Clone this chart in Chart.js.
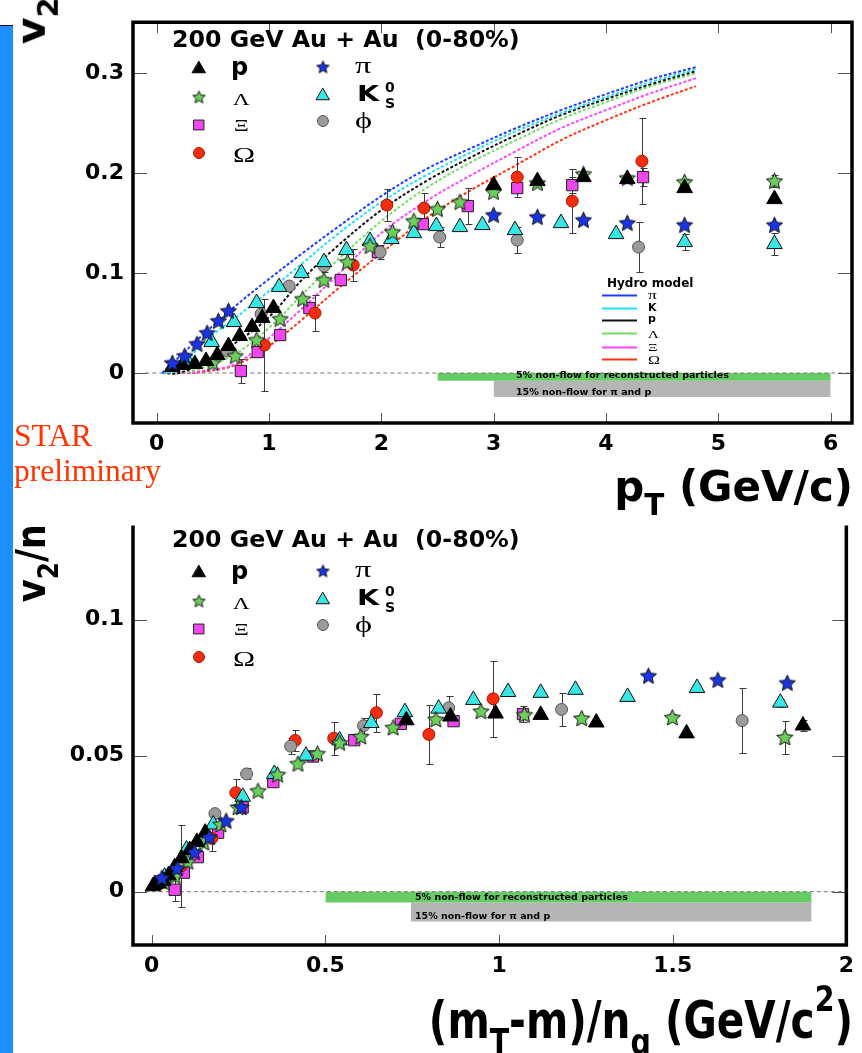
<!DOCTYPE html>
<html>
<head>
<meta charset="utf-8">
<script src="https://cdn.jsdelivr.net/npm/chart.js@4.4.1/dist/chart.umd.min.js"></script>
<style>
  html, body { margin: 0; padding: 0; background: #fff; }
  body { width: 862px; height: 1053px; position: relative; overflow: hidden; }
  canvas { position: absolute; left: 0; }
  #c1 { top: 0; }
  #c2 { top: 505px; }
  #bar { position: absolute; left: 0; top: 25px; width: 13px; height: 1028px; background: #1e8fff; border-top: 1px solid #002; }
  .t { position: absolute; line-height: 0; white-space: nowrap; color: #000; }
  .sans { font-family: 'DejaVu Sans'; font-weight: bold; }
  .serif { font-family: 'Liberation Serif', 'DejaVu Serif'; }
  .sub { font-size: 70%; position: relative; top: 0.45em; }
  .sup { font-size: 70%; position: relative; top: -0.75em; }
</style>
</head>
<body>
<canvas id="c1" width="862" height="505"></canvas>
<canvas id="c2" width="862" height="548"></canvas>
<div id="bar"></div>
<script>
// ---------- top panel : v2 vs pT ----------
const xTicksTop = [0, 1, 2, 3, 4, 5, 6];
const xLabelsTop = ['0', '1', '2', '3', '4', '5', '6'];
const yTicksTop = [0, 0.1, 0.2, 0.3];
const yLabelsTop = ['0', '0.1', '0.2', '0.3'];

const ptP  = [0.14, 0.23, 0.34, 0.44, 0.54, 0.64, 0.74, 0.85, 0.94, 1.04, 3.0, 3.39, 3.80, 4.19, 4.70, 5.50];
const v2P  = [0.006, 0.008, 0.009, 0.012, 0.018, 0.027, 0.037, 0.046, 0.055, 0.065, 0.188, 0.192, 0.196, 0.194, 0.185, 0.174];

const ptPi = [0.14, 0.25, 0.36, 0.45, 0.55, 0.64, 3.0, 3.39, 3.80, 4.19, 4.70, 5.50];
const v2Pi = [0.010, 0.017, 0.029, 0.040, 0.052, 0.062, 0.158, 0.156, 0.153, 0.150, 0.148, 0.148];

const ptK  = [0.28, 0.49, 0.69, 0.89, 1.09, 1.29, 1.49, 1.69, 1.90, 2.09, 2.29, 2.49, 2.70, 2.90, 3.19, 3.60, 4.09, 4.70, 5.50];
const v2K  = [0.011, 0.031, 0.051, 0.070, 0.086, 0.100, 0.111, 0.123, 0.132, 0.134, 0.140, 0.147, 0.146, 0.148, 0.143, 0.150, 0.139, 0.131, 0.129];
const errK = [0, 0, 0, 0, 0, 0, 0, 0, 0, 0, 0, 0, 0, 0, 0, 0, 0, 0.008, 0.011];

const ptL  = [0.50, 0.70, 0.89, 1.10, 1.30, 1.49, 1.70, 1.90, 2.10, 2.29, 2.50, 2.70, 3.00, 3.39, 3.80, 4.19, 4.70, 5.50];
const v2L  = [0.010, 0.017, 0.033, 0.054, 0.074, 0.093, 0.111, 0.127, 0.141, 0.152, 0.164, 0.171, 0.181, 0.190, 0.199, 0.195, 0.191, 0.192];
const errL = [0, 0, 0, 0, 0, 0, 0, 0, 0, 0, 0, 0, 0, 0, 0, 0, 0.003, 0.006];

const ptXi = [0.75, 0.90, 1.10, 1.36, 1.64, 1.97, 2.37, 2.77, 3.21, 3.70, 4.33];
const v2Xi = [0.002, 0.021, 0.038, 0.065, 0.093, 0.121, 0.149, 0.167, 0.185, 0.188, 0.196];
const errXi = [0.012, 0, 0, 0, 0, 0, 0, 0.018, 0, 0.008, 0.009];

const ptOm = [0.96, 1.41, 1.75, 2.05, 2.38, 3.21, 3.70, 4.32];
const v2Om = [0.028, 0.060, 0.108, 0.168, 0.165, 0.196, 0.172, 0.212];
const errOm = [0.046, 0.018, 0.016, 0.016, 0.015, 0.020, 0.032, 0.043];

const ptPhi = [0.63, 0.93, 1.18, 1.49, 1.99, 2.52, 3.21, 4.29];
const v2Phi = [0.022, 0.059, 0.087, 0.107, 0.121, 0.136, 0.133, 0.126];
const errPhi = [0, 0, 0.003, 0.006, 0.007, 0.010, 0.013, 0.025];

// hydro model curves
const hydroPt  = [0.05, 0.2, 0.4, 0.7, 1.0, 1.3, 1.6, 2.0, 2.4, 2.8, 3.2, 3.6, 4.0, 4.4, 4.8];
const hydroPi  = [0, 0.016, 0.037, 0.067, 0.094, 0.120, 0.145, 0.177, 0.204, 0.225, 0.245, 0.263, 0.279, 0.294, 0.306];
const hydroK   = [0, 0.003, 0.029, 0.055, 0.082, 0.110, 0.138, 0.171, 0.198, 0.221, 0.242, 0.260, 0.276, 0.291, 0.304];
const hydroP   = [0, 0, 0.010, 0.030, 0.056, 0.094, 0.126, 0.163, 0.192, 0.216, 0.238, 0.258, 0.274, 0.289, 0.302];
const hydroL   = [0, 0, 0.005, 0.019, 0.045, 0.079, 0.112, 0.152, 0.185, 0.211, 0.233, 0.254, 0.271, 0.287, 0.300];
const hydroXi  = [0, 0, 0.002, 0.009, 0.035, 0.065, 0.097, 0.140, 0.172, 0.198, 0.222, 0.245, 0.263, 0.280, 0.295];
const hydroOm  = [0, 0, 0.001, 0.008, 0.027, 0.054, 0.083, 0.120, 0.155, 0.183, 0.208, 0.233, 0.253, 0.271, 0.287];

// non-flow bands [xFrom, xTo, yTop, yBottom]
const bandGreenTop = [2.5, 6.0, 0, -0.0077];
const bandGrayTop  = [3.0, 6.0, -0.0077, -0.024];

// ---------- bottom panel : v2/n vs (mT-m)/nq ----------
const xTicksBot = [0, 0.5, 1, 1.5, 2];
const xLabelsBot = ['0', '0.5', '1', '1.5', '2'];
const yTicksBot = [0, 0.05, 0.1];
const yLabelsBot = ['0', '0.05', '0.1'];

const kP  = [0.0035, 0.0093, 0.0199, 0.0327, 0.0481, 0.0659, 0.0856, 0.1093, 0.130, 0.154, 0.733, 0.86, 0.99, 1.12, 1.28, 1.54, 1.875];
const nP  = [0.002, 0.0027, 0.003, 0.004, 0.006, 0.009, 0.0123, 0.0153, 0.0183, 0.0217, 0.063, 0.0644, 0.0655, 0.065, 0.0622, 0.0582, 0.0611];
const eP  = [0, 0, 0, 0, 0, 0, 0, 0, 0, 0, 0, 0, 0, 0, 0, 0, 0.002];

const kPi = [0.029, 0.073, 0.123, 0.166, 0.214, 0.258, 1.43, 1.63, 1.83];
const nPi = [0.005, 0.0085, 0.0145, 0.020, 0.026, 0.031, 0.0793, 0.0778, 0.0767];

const kK  = [0.037, 0.10, 0.177, 0.262, 0.353, 0.444, 0.541, 0.632, 0.729, 0.826, 0.926, 1.026, 1.12, 1.22, 1.37, 1.57, 1.81];
const nK  = [0.0055, 0.0155, 0.0247, 0.0349, 0.0433, 0.050, 0.0556, 0.062, 0.066, 0.0673, 0.0705, 0.0734, 0.0731, 0.0742, 0.0716, 0.0749, 0.0695];
const eK  = [0, 0, 0, 0, 0, 0, 0, 0, 0, 0, 0, 0, 0, 0, 0, 0, 0.0015];

const kL  = [0.036, 0.067, 0.104, 0.150, 0.199, 0.2485, 0.306, 0.3625, 0.421, 0.477, 0.541, 0.602, 0.695, 0.818, 0.948, 1.073, 1.238, 1.499, 1.823];
const nL  = [0.0033, 0.0057, 0.011, 0.018, 0.0247, 0.031, 0.037, 0.043, 0.047, 0.0507, 0.0547, 0.057, 0.0603, 0.0633, 0.0663, 0.065, 0.0637, 0.064, 0.0567];
const eL  = [0, 0, 0, 0, 0, 0, 0, 0, 0, 0, 0, 0, 0, 0, 0, 0, 0, 0.0012, 0.006];

const kXi = [0.066, 0.0925, 0.1327, 0.191, 0.2617, 0.350, 0.464, 0.583, 0.717, 0.869, 1.069];
const nXi = [0.0007, 0.007, 0.0127, 0.0217, 0.031, 0.0403, 0.0497, 0.0557, 0.0617, 0.0627, 0.0653];
const eXi = [0.004, 0, 0, 0, 0, 0, 0, 0, 0, 0, 0.003];

const kOm = [0.085, 0.173, 0.242, 0.413, 0.524, 0.647, 0.798, 0.983];
const nOm = [0.0095, 0.0196, 0.0364, 0.0556, 0.0564, 0.0658, 0.0578, 0.0709];
const eOm = [0.015, 0.0045, 0.005, 0.004, 0.006, 0.007, 0.011, 0.014];

const kPhi = [0.0895, 0.182, 0.273, 0.400, 0.610, 0.855, 1.18, 1.70];
const nPhi = [0.011, 0.0287, 0.0433, 0.0535, 0.061, 0.0676, 0.067, 0.0629];
const ePhi = [0, 0.0015, 0.002, 0.003, 0.003, 0.0045, 0.006, 0.012];

const bandGreenBot = [0.5, 1.9, 0, -0.004];
const bandGrayBot  = [0.746, 1.9, -0.004, -0.011];

// ---------- marker styles ----------
function starImg(fill, size) {
  const c = document.createElement('canvas');
  c.width = c.height = size;
  const g = c.getContext('2d');
  const cx = size / 2, cy = size / 2 + 0.5, R = size / 2 - 1, r = R * 0.47;
  g.beginPath();
  for (let i = 0; i < 10; i++) {
    const a = -Math.PI / 2 + i * Math.PI / 5;
    const rr = i % 2 ? r : R;
    g.lineTo(cx + rr * Math.cos(a), cy + rr * Math.sin(a));
  }
  g.closePath();
  g.fillStyle = fill; g.fill();
  g.lineWidth = 1; g.strokeStyle = '#111'; g.stroke();
  return c;
}

const BLUE = '#1a34e2', CYAN = '#38e6e6', GREEN = '#6ccf5c', MAGENTA = '#f046ef', RED = '#f52d0c', GRAY = '#9b9b9b';

const ST = {
  p:   { shape: 'triangle', r: 9, fill: '#000', edge: '#000' },
  pi:  { shape: starImg(BLUE, 19), r: 8, fill: BLUE, edge: '#111' },
  K:   { shape: 'triangle', r: 9, fill: CYAN, edge: '#111' },
  L:   { shape: starImg(GREEN, 19), r: 8, fill: GREEN, edge: '#111' },
  Xi:  { shape: 'rect', r: 8, fill: MAGENTA, edge: '#222' },
  Om:  { shape: 'circle', r: 6, fill: RED, edge: '#a01800' },
  Phi: { shape: 'circle', r: 6, fill: GRAY, edge: '#555' }
};
const LEG = {
  p:   { shape: 'triangle', r: 7.5, fill: '#000', edge: '#000' },
  pi:  { shape: starImg(BLUE, 15), r: 6, fill: BLUE, edge: '#111' },
  K:   { shape: 'triangle', r: 7.5, fill: CYAN, edge: '#111' },
  L:   { shape: starImg(GREEN, 15), r: 6, fill: GREEN, edge: '#111' },
  Xi:  { shape: 'rect', r: 7, fill: MAGENTA, edge: '#222' },
  Om:  { shape: 'circle', r: 5.5, fill: RED, edge: '#a01800' },
  Phi: { shape: 'circle', r: 5.5, fill: GRAY, edge: '#555' }
};

function pts(xs, ys) { return xs.map((x, i) => ({ x: x, y: ys[i] })); }

function markerSet(xs, ys, err, st, order) {
  return {
    type: 'scatter', data: pts(xs, ys), err: err, marker: true, order: order,
    pointStyle: st.shape, pointRadius: st.r, pointHoverRadius: st.r,
    pointBackgroundColor: st.fill, pointBorderColor: st.edge, pointBorderWidth: 1
  };
}
function curveSet(xs, ys, color) {
  return {
    type: 'line', data: pts(xs, ys), borderColor: color, borderWidth: 2, borderDash: [3, 2],
    pointRadius: 0, tension: 0.35, fill: false, order: 50
  };
}
function bandSet(b, color) {
  return {
    type: 'line', data: [{ x: b[0], y: b[2] }, { x: b[1], y: b[2] }],
    borderColor: 'rgba(0,0,0,0)', borderWidth: 1, pointRadius: 0,
    fill: { value: b[3] }, backgroundColor: color, order: 100
  };
}
function zeroSet(x0, x1) {
  return {
    type: 'line', data: [{ x: x0, y: 0 }, { x: x1, y: 0 }],
    borderColor: '#777', borderWidth: 1, borderDash: [4, 3], pointRadius: 0, fill: false, order: 90
  };
}

// ---------- extras drawn on the canvas (frame, inward ticks, errors, legend symbols) ----------
const EXTRA = {};

function drawErrors(chart) {
  const ctx = chart.ctx, xs = chart.scales.x, ys = chart.scales.y;
  ctx.save();
  ctx.strokeStyle = '#3a3a3a'; ctx.lineWidth = 1;
  chart.data.datasets.forEach(ds => {
    if (!ds.err) return;
    ds.data.forEach((p, i) => {
      const e = ds.err[i];
      if (!e) return;
      const x = Math.round(xs.getPixelForValue(p.x)) + 0.5;
      const y1 = Math.round(ys.getPixelForValue(p.y + e)) + 0.5;
      const y2 = Math.round(ys.getPixelForValue(p.y - e)) + 0.5;
      ctx.beginPath();
      ctx.moveTo(x, y1); ctx.lineTo(x, y2);
      ctx.moveTo(x - 3, y1); ctx.lineTo(x + 4, y1);
      ctx.moveTo(x - 3, y2); ctx.lineTo(x + 4, y2);
      ctx.stroke();
    });
  });
  ctx.restore();
}

const framePlugin = {
  id: 'framePlugin',
  beforeDatasetsDraw(chart) { chart.$errDone = false; },
  beforeDatasetDraw(chart, args) {
    const ds = chart.data.datasets[args.index];
    if (!chart.$errDone && ds.marker) { drawErrors(chart); chart.$errDone = true; }
  },
  afterDraw(chart) {
    const ex = EXTRA[chart.canvas.id];
    const ctx = chart.ctx, a = chart.chartArea, xs = chart.scales.x, ys = chart.scales.y;
    ctx.save();
    // inward ticks
    ctx.strokeStyle = '#555'; ctx.lineWidth = 1;
    ctx.beginPath();
    ex.xTicks.forEach(v => {
      const px = Math.round(xs.getPixelForValue(v)) + 0.5;
      if (px > a.right - 3) return;
      ctx.moveTo(px, a.bottom); ctx.lineTo(px, a.bottom - 10);
      if (ex.topFrame) { ctx.moveTo(px, a.top); ctx.lineTo(px, a.top + 11); }
    });
    ex.yTicks.forEach(v => {
      const py = Math.round(ys.getPixelForValue(v)) + 0.5;
      ctx.moveTo(a.left, py); ctx.lineTo(a.left + 14, py);
      ctx.moveTo(a.right, py); ctx.lineTo(a.right - 14, py);
    });
    ctx.stroke();
    // frame
    ctx.strokeStyle = '#000'; ctx.lineWidth = 3.5; ctx.lineCap = 'square';
    ctx.beginPath();
    if (ex.topFrame) { ctx.moveTo(a.left, a.top); ctx.lineTo(a.right, a.top); }
    ctx.moveTo(a.left, a.top); ctx.lineTo(a.left, a.bottom); ctx.lineTo(a.right, a.bottom); ctx.lineTo(a.right, a.top);
    ctx.stroke();
    // legend symbols
    ex.legend.forEach(l => {
      ctx.fillStyle = l.st.fill; ctx.strokeStyle = l.st.edge; ctx.lineWidth = 1; ctx.setLineDash([]);
      Chart.helpers.drawPoint(ctx, { pointStyle: l.st.shape, radius: l.st.r, rotation: 0, borderWidth: 1 }, l.x, l.y);
    });
    // hydro legend dashes
    (ex.hydroLegend || []).forEach(h => {
      ctx.strokeStyle = h.color; ctx.lineWidth = 2; ctx.setLineDash([3, 2]);
      ctx.beginPath(); ctx.moveTo(603, h.y); ctx.lineTo(638, h.y); ctx.stroke();
    });
    ctx.restore();
  }
};

function makeChart(id, o) {
  EXTRA[id] = o.extra;
  return new Chart(document.getElementById(id), {
    type: 'scatter',
    data: { datasets: o.datasets },
    options: {
      responsive: false, animation: false, devicePixelRatio: 1,
      layout: { padding: { left: 0, top: o.padTop, right: 9, bottom: 0 } },
      plugins: { legend: { display: false }, tooltip: { enabled: false } },
      scales: {
        x: {
          type: 'linear', min: o.xMin, max: o.xMax,
          afterFit: s => { s.height = o.xAxisH; },
          afterBuildTicks: s => { s.ticks = o.xTicks.map(v => ({ value: v })); },
          grid: { display: false, drawTicks: false }, border: { display: false },
          ticks: {
            padding: 8, color: '#000', autoSkip: false, maxRotation: 0,
            font: { family: 'DejaVu Sans', weight: 'bold', size: 22 },
            callback: (v, i) => o.xLabels[i]
          }
        },
        y: {
          type: 'linear', min: o.yMin, max: o.yMax,
          afterFit: s => { s.width = 133; },
          afterBuildTicks: s => { s.ticks = o.yTicks.map(v => ({ value: v })); },
          grid: { display: false, drawTicks: false }, border: { display: false },
          ticks: {
            padding: 9, color: '#000', autoSkip: false,
            font: { family: 'DejaVu Sans', weight: 'bold', size: 22 },
            callback: (v, i) => o.yLabels[i]
          }
        }
      }
    },
    plugins: [framePlugin]
  });
}

function legendAt(dy) {
  return [
    { x: 199, y: 69 + dy, st: LEG.p },  { x: 199, y: 97 + dy, st: LEG.L },
    { x: 199, y: 125 + dy, st: LEG.Xi }, { x: 199, y: 153 + dy, st: LEG.Om },
    { x: 323, y: 67 + dy, st: LEG.pi }, { x: 323, y: 96 + dy, st: LEG.K },
    { x: 323, y: 121 + dy, st: LEG.Phi }
  ];
}

makeChart('c1', {
  padTop: 6, xAxisH: 82, xMin: -0.21, xMax: 6.19, yMin: -0.05, yMax: 0.351,
  xTicks: xTicksTop, xLabels: xLabelsTop, yTicks: yTicksTop, yLabels: yLabelsTop,
  datasets: [
    markerSet(ptPi, v2Pi, null, ST.pi, 1),
    markerSet(ptP, v2P, null, ST.p, 2),
    markerSet(ptL, v2L, errL, ST.L, 3),
    markerSet(ptK, v2K, errK, ST.K, 4),
    markerSet(ptPhi, v2Phi, errPhi, ST.Phi, 5),
    markerSet(ptOm, v2Om, errOm, ST.Om, 6),
    markerSet(ptXi, v2Xi, errXi, ST.Xi, 7),
    curveSet(hydroPt, hydroPi, '#1e3cff'),
    curveSet(hydroPt, hydroK, '#22e0f0'),
    curveSet(hydroPt, hydroP, '#111111'),
    curveSet(hydroPt, hydroL, '#77dd66'),
    curveSet(hydroPt, hydroXi, '#ff44ff'),
    curveSet(hydroPt, hydroOm, '#ff3311'),
    zeroSet(-0.1, 6.19),
    bandSet(bandGreenTop, '#66cc66'),
    bandSet(bandGrayTop, '#b5b5b5')
  ],
  extra: {
    topFrame: true, xTicks: xTicksTop, yTicks: yTicksTop, legend: legendAt(0),
    hydroLegend: [
      { y: 295.5, color: '#1e3cff' }, { y: 308.5, color: '#22e0f0' }, { y: 320.5, color: '#111111' },
      { y: 333.5, color: '#77dd66' }, { y: 347.5, color: '#ff44ff' }, { y: 359.5, color: '#ff3311' }
    ]
  }
});

makeChart('c2', {
  padTop: 17, xAxisH: 108, xMin: -0.054, xMax: 2.0, yMin: -0.0196, yMax: 0.134,
  xTicks: xTicksBot, xLabels: xLabelsBot, yTicks: yTicksBot, yLabels: yLabelsBot,
  datasets: [
    markerSet(kPi, nPi, null, ST.pi, 1),
    markerSet(kP, nP, eP, ST.p, 2),
    markerSet(kL, nL, eL, ST.L, 3),
    markerSet(kK, nK, eK, ST.K, 4),
    markerSet(kPhi, nPhi, ePhi, ST.Phi, 5),
    markerSet(kOm, nOm, eOm, ST.Om, 6),
    markerSet(kXi, nXi, eXi, ST.Xi, 7),
    zeroSet(-0.02, 2.0),
    bandSet(bandGreenBot, '#66cc66'),
    bandSet(bandGrayBot, '#b5b5b5')
  ],
  extra: { topFrame: false, xTicks: xTicksBot, yTicks: yTicksBot, legend: legendAt(504 - 505) }
});

// ---------- text (HTML) ----------
const BASE = { sans: 0.346, serif: 0.3375 };
function addText(html, x, base, size, cls, opt) {
  opt = opt || {};
  const d = document.createElement('div');
  d.className = 't ' + cls;
  d.style.fontSize = size + 'px';
  d.style.left = x + 'px';
  d.style.top = (base - BASE[cls] * size) + 'px';
  d.innerHTML = html;
  if (opt.color) d.style.color = opt.color;
  if (opt.spacing) d.style.letterSpacing = opt.spacing;
  if (opt.transform) {
    d.style.transform = opt.transform;
    d.style.transformOrigin = opt.origin || ('0 ' + (BASE[cls] * size) + 'px');
  }
  document.body.appendChild(d);
  return d;
}
const WIDE = { transform: 'scaleX(1.35)' };

function panelLegendText(dy, dt) {
  addText('200 GeV Au + Au&nbsp;&nbsp;(0-80%)', 172, 47 + dt, 23.7, 'sans');
  addText('p', 231, 75 + dy, 24, 'sans');
  addText('Λ', 233, 106 + dy, 17, 'serif', WIDE);
  addText('Ξ', 234, 132 + dy, 17, 'serif', WIDE);
  addText('Ω', 233, 162 + dy, 22, 'serif', WIDE);
  addText('π', 355, 73 + dy, 24, 'serif', WIDE);
  addText('K', 357, 102 + dy, 22, 'sans', { transform: 'scaleX(1.3)' });
  addText('0', 385, 92 + dy, 14, 'sans');
  addText('S', 385, 108 + dy, 14, 'sans');
  addText('ϕ', 355, 128 + dy, 24, 'serif', WIDE);
}
panelLegendText(0, 0);
panelLegendText(504, 500);

// hydro model legend
addText('Hydro model', 607, 287, 12, 'sans');
addText('π', 648, 299, 13, 'serif', WIDE);
addText('K', 648, 312, 11, 'sans');
addText('p', 648, 323, 11, 'sans');
addText('Λ', 648, 338, 11, 'serif', WIDE);
addText('Ξ', 648, 351, 11, 'serif', WIDE);
addText('Ω', 648, 364, 12, 'serif', WIDE);

// non-flow band labels
addText('5% non-flow for reconstructed particles', 516, 378.5, 9.5, 'sans');
addText('15% non-flow for π and p', 516, 395, 9.5, 'sans');
addText('5% non-flow for reconstructed particles', 415, 900, 9.5, 'sans');
addText('15% non-flow for π and p', 415, 919, 9.5, 'sans');

// axis titles
addText('v<span class="sub">2</span>', 45, 44, 41, 'sans', { transform: 'rotate(-90deg)' });
addText('v<span class="sub">2</span>/n', 45, 602, 41, 'sans', { transform: 'rotate(-90deg) scaleX(0.86)' });
addText('p<span class="sub">T</span> (GeV/c)', 853, 502, 42, 'sans', { transform: 'translateX(-100%)', origin: '0 0' });
addText('(m<span class="sub">T</span>-m)/n<span class="sub">q</span> (GeV/c<span class="sup">2</span>)', 853, 1038, 41, 'sans',
  { transform: 'translateX(-100%) scaleX(0.99) scaleY(1.25)', origin: '100% 14px' });

// watermark
addText('STAR', 14, 447, 31.5, 'serif', { color: '#ff3300' });
addText('preliminary', 14, 482, 31.5, 'serif', { color: '#ff3300' });
</script>
</body>
</html>
